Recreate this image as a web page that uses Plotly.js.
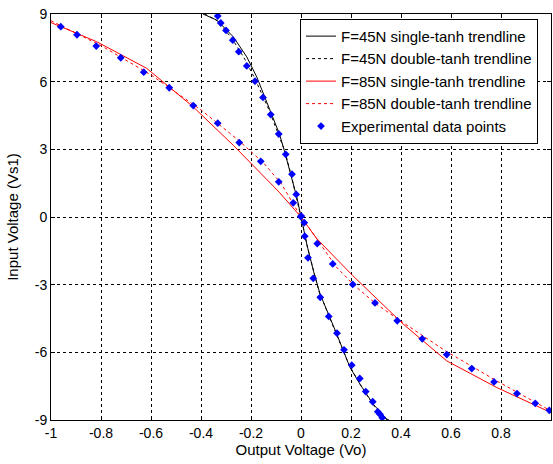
<!DOCTYPE html>
<html>
<head>
<meta charset="utf-8">
<script src="https://cdn.plot.ly/plotly-3.0.1.min.js"></script>
<style>html,body{margin:0;padding:0;background:#fff;}#chart{width:553px;height:464px;}</style>
</head>
<body>
<div id="chart"></div>
<script>
// Experimental data points, F=45N
var exp45X = [-0.333,-0.321,-0.300,-0.273,-0.249,-0.217,-0.184,-0.152,-0.121,-0.089,-0.061,-0.036,-0.019,0.001,0.013,0.015,0.028,0.049,0.077,0.111,0.144,0.172,0.203,0.235,0.259,0.287,0.307,0.316,0.325];
var exp45Y = [8.91,8.60,8.27,7.84,7.33,6.70,6.02,5.30,4.54,3.68,2.78,1.90,1.00,0.04,-0.25,-0.85,-1.81,-2.72,-3.56,-4.41,-5.15,-5.89,-6.57,-7.16,-7.74,-8.19,-8.63,-8.75,-8.90];
// Experimental data points, F=85N
var exp85X = [-0.961,-0.896,-0.819,-0.721,-0.629,-0.527,-0.431,-0.333,-0.247,-0.161,-0.089,-0.031,-0.001,0.065,0.127,0.207,0.296,0.385,0.485,0.583,0.683,0.772,0.864,0.937,0.993];
var exp85Y = [8.44,8.08,7.58,7.06,6.42,5.73,4.94,4.16,3.30,2.47,1.56,0.63,0.02,-1.18,-2.08,-2.99,-3.81,-4.60,-5.40,-6.10,-6.72,-7.31,-7.83,-8.26,-8.57];

// Trendlines
var single45X = [-0.392,-0.337,-0.271,-0.217,-0.177,-0.124,-0.087,-0.067,-0.040,-0.015,0.005,0.023,0.050,0.076,0.143,0.196,0.236,0.289,0.343,0.352];
var single45Y = [9.0,8.73,7.99,7.10,6.21,4.73,3.70,2.96,1.90,0.80,-0.25,-1.20,-2.40,-3.41,-5.19,-6.67,-7.41,-8.30,-8.96,-9.0];
var double45X = [-0.385,-0.335,-0.275,-0.225,-0.183,-0.128,-0.090,-0.064,-0.038,-0.012,0.008,0.026,0.052,0.072,0.138,0.192,0.238,0.290,0.335,0.345];
var double45Y = [9.0,8.70,7.90,7.00,6.10,4.75,3.65,2.90,1.80,0.60,-0.40,-1.35,-2.45,-3.30,-5.10,-6.55,-7.45,-8.35,-8.90,-9.0];
var single85X = [-1.0,-0.817,-0.617,-0.431,-0.271,-0.187,-0.087,0.0,0.063,0.207,0.409,0.583,0.783,1.0];
var single85Y = [8.62,7.77,6.59,4.88,3.18,2.21,1.10,0.0,-0.96,-2.60,-4.75,-6.38,-7.56,-8.67];
var double85X = [-1.0,-0.8,-0.6,-0.4,-0.25,-0.15,-0.08,0.0,0.04,0.14,0.21,0.30,0.40,0.58,0.78,1.0];
var double85Y = [8.70,7.60,6.30,4.75,3.40,2.40,1.50,0.0,-0.60,-2.20,-3.00,-3.85,-4.62,-5.95,-7.25,-8.60];

var xTicks = [-1,-0.8,-0.6,-0.4,-0.2,0,0.2,0.4,0.6,0.8,1];
var xTickText = ['-1','-0.8','-0.6','-0.4','-0.2','0','0.2','0.4','0.6','0.8','1'];
var yTicks = [-9,-6,-3,0,3,6,9];
var yTickText = ['-9','-6','-3','0','3','6','9'];

var FONT = 'Liberation Sans, Arial, sans-serif';

var traces = [
  {x: single45X, y: single45Y, mode: 'lines', name: 'F=45N single-tanh trendline', line: {color: '#000000', width: 1}},
  {x: double45X, y: double45Y, mode: 'lines', name: 'F=45N double-tanh trendline', line: {color: '#000000', width: 1, dash: '3px,3px'}},
  {x: single85X, y: single85Y, mode: 'lines', name: 'F=85N single-tanh trendline', line: {color: '#ff0000', width: 1}},
  {x: double85X, y: double85Y, mode: 'lines', name: 'F=85N double-tanh trendline', line: {color: '#ff0000', width: 1, dash: '3px,3px'}},
  {x: exp45X.concat(exp85X), y: exp45Y.concat(exp85Y), mode: 'markers', name: 'Experimental data points', marker: {color: '#0000ff', size: 6, symbol: 'diamond'}}
];

var axisCommon = {
  showline: true, mirror: 'ticks', linecolor: '#000', linewidth: 1,
  ticks: 'inside', ticklen: 4, tickcolor: '#000',
  showgrid: true, gridcolor: '#000', gridwidth: 1, griddash: '3px,3px',
  zeroline: false, automargin: false, tickfont: {family: FONT, size: 14, color: '#000'}
};

var layout = {
  width: 553, height: 464,
  margin: {l: 51, r: 2, t: 14, b: 44, pad: 0},
  paper_bgcolor: '#fff', plot_bgcolor: '#fff',
  showlegend: true,
  legend: {x: 0.498, y: 0.988, xanchor: 'left', yanchor: 'top', bgcolor: '#fff', bordercolor: '#000', borderwidth: 1,
           font: {family: FONT, size: 15, color: '#000'}, tracegroupgap: 0, entrywidth: 240, entrywidthmode: 'pixels'},
  xaxis: Object.assign({}, axisCommon, {range: [-1, 1], tickvals: xTicks, ticktext: xTickText,
    title: {text: 'Output Voltage (Vo)', font: {family: FONT, size: 15, color: '#000'}, standoff: 2}}),
  yaxis: Object.assign({}, axisCommon, {range: [-9, 9], tickvals: yTicks, ticktext: yTickText,
    title: {text: 'Input Voltage (Vs1)', font: {family: FONT, size: 15, color: '#000'}, standoff: 12}})
};

Plotly.newPlot('chart', traces, layout, {displayModeBar: false, staticPlot: true});
</script>
</body>
</html>
